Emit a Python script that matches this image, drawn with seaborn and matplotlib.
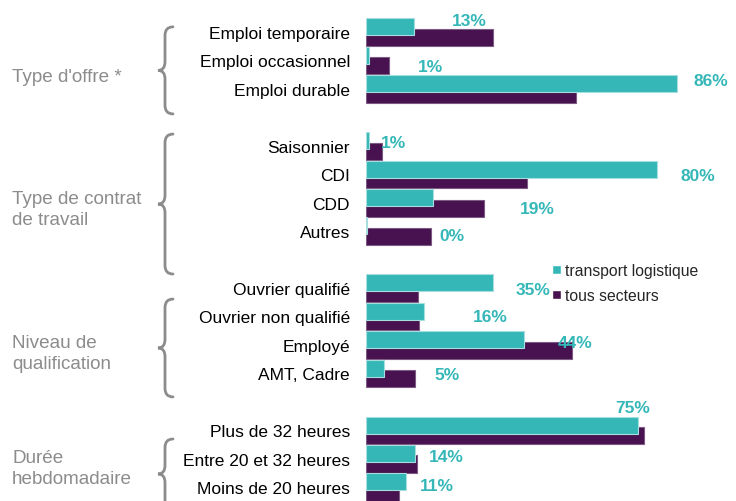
import numpy as np
import pandas as pd
import matplotlib
matplotlib.use("Agg")
import matplotlib.pyplot as plt
import seaborn as sns
from matplotlib import transforms
from matplotlib.path import Path
from matplotlib.patches import PathPatch, Patch


categories = ["Emploi temporaire", "Emploi occasionnel", "Emploi durable",
              "Saisonnier", "CDI", "CDD", "Autres",
              "Ouvrier qualifié", "Ouvrier non qualifié", "Employé", "AMT, Cadre",
              "Plus de 32 heures", "Entre 20 et 32 heures", "Moins de 20 heures"]
groupes = ["Type d'offre *", "Type de contrat\nde travail",
           "Niveau de\nqualification", "Durée\nhebdomadaire"]
taille_groupes = [3, 4, 4, 3]
series = ["transport logistique", "tous secteurs"]

transport = [13.2, 0.9, 85.8, 0.7, 80.3, 18.6, 0.4, 35.1, 16.0, 43.7, 5.0, 75.2, 13.6, 11.0]
tous_secteurs = [35.0, 6.3, 58.0, 4.4, 44.5, 32.6, 18.0, 14.4, 14.6, 57.0, 13.5, 76.8, 14.0, 9.0]

# placement des étiquettes % (x en %, décalage en lignes), comme sur l'original
label_x = [28.5, 17.7, 95.3, 7.7, 91.7, 47.2, 23.8, 46.1, 34.3, 57.7, 22.4, 73.8, 22.1, 19.6]
label_dy = [-0.39, 0.23, -0.28, -0.13, 0.06, 0.19, 0.17, 0.04, -0.01, -0.10, 0.03, -0.81, -0.06, -0.07]
# accolades (haut, bas) et titres de groupe, en lignes
accolade_haut = [-0.18, 3.59, 9.39, 14.31]
accolade_bas = [2.88, 8.51, 12.83, 16.77]
groupe_y = [1.55, 6.22, 11.29, 15.33]

TEAL = "#35b7b8"
VIOLET = "#47124f"
GRIS = "#8c8c8c"


def positions_lignes(tailles):
    # une ligne vide entre chaque groupe
    lignes, r = [], 0
    for n in tailles:
        lignes += list(range(r, r + n))
        r += n + 1
    return lignes


def accolade(top, bot, transform):
    mid = (top + bot) / 2
    x_end, x_stem, x_tip = 173 / 736, 165 / 736, 158 / 736
    r = 0.3
    verts = [(x_end, top), (x_stem, top), (x_stem, top + r),
             (x_stem, mid - r), (x_stem, mid), (x_tip, mid),
             (x_stem, mid), (x_stem, mid + r),
             (x_stem, bot - r), (x_stem, bot), (x_end, bot)]
    codes = [Path.MOVETO, Path.CURVE3, Path.CURVE3, Path.LINETO, Path.CURVE3, Path.CURVE3,
             Path.CURVE3, Path.CURVE3, Path.LINETO, Path.CURVE3, Path.CURVE3]
    return PathPatch(Path(verts, codes), transform=transform, fill=False,
                     edgecolor=GRIS, lw=2, capstyle="round")


lignes = positions_lignes(taille_groupes)
n = len(categories)
df = pd.DataFrame({
    "categorie": categories * 2,
    "ligne": lignes * 2,
    "valeur": transport + tous_secteurs,
    "serie": [series[0]] * n + [series[1]] * n,
})
df["pos"] = df["ligne"] + np.where(df["serie"] == series[0], -0.18, 0.19)

sns.set_theme(style="white")
plt.rcParams["font.family"] = ["Liberation Sans", "DejaVu Sans"]

fig = plt.figure(figsize=(7.36, 5.02), dpi=100)
ax = fig.add_axes([366 / 736, 0, 370 / 736, 1])

# tous secteurs d'abord, transport logistique par-dessus
for nom, couleur, bord in [(series[1], VIOLET, "#7d5a84"), (series[0], TEAL, "#a6dede")]:
    sns.barplot(data=df[df["serie"] == nom], x="valeur", y="pos", orient="h",
                native_scale=True, width=0.6, color=couleur, saturation=1,
                edgecolor=bord, linewidth=0.8, errorbar=None, ax=ax)

ax.set_xlim(0, 102.2)
ax.set_ylim(16.49, -1.16)
ax.set_yticks(lignes)
ax.set_yticklabels(categories, fontsize=12.5, color="black")
ax.tick_params(axis="y", length=0, pad=11.5)
ax.set_xticks([])
ax.set_xlabel("")
ax.set_ylabel("")
sns.despine(ax=ax, left=True, bottom=True)

for v, lg, lx, dy in zip(transport, lignes, label_x, label_dy):
    ax.text(lx, lg + dy, f"{round(v)}%", ha="center", va="center",
            color=TEAL, fontsize=12.5, fontweight="bold")

blend = transforms.blended_transform_factory(fig.transFigure, ax.transData)
for g, top, bot, gy in zip(groupes, accolade_haut, accolade_bas, groupe_y):
    fig.add_artist(accolade(top, bot, blend))
    ax.text(12 / 736, gy, g, transform=blend, ha="left", va="center",
            fontsize=13.6, color=GRIS, linespacing=1.25)

poignees = [Patch(facecolor=TEAL), Patch(facecolor=VIOLET)]
fig.legend(poignees, series, loc="center left", bbox_to_anchor=(552 / 736, 1 - 284 / 502),
           frameon=False, fontsize=11.3, handlelength=0.55, handleheight=0.55,
           handletextpad=0.25, labelspacing=0.65, borderpad=0, borderaxespad=0)

fig.savefig("out.png", dpi=100)
